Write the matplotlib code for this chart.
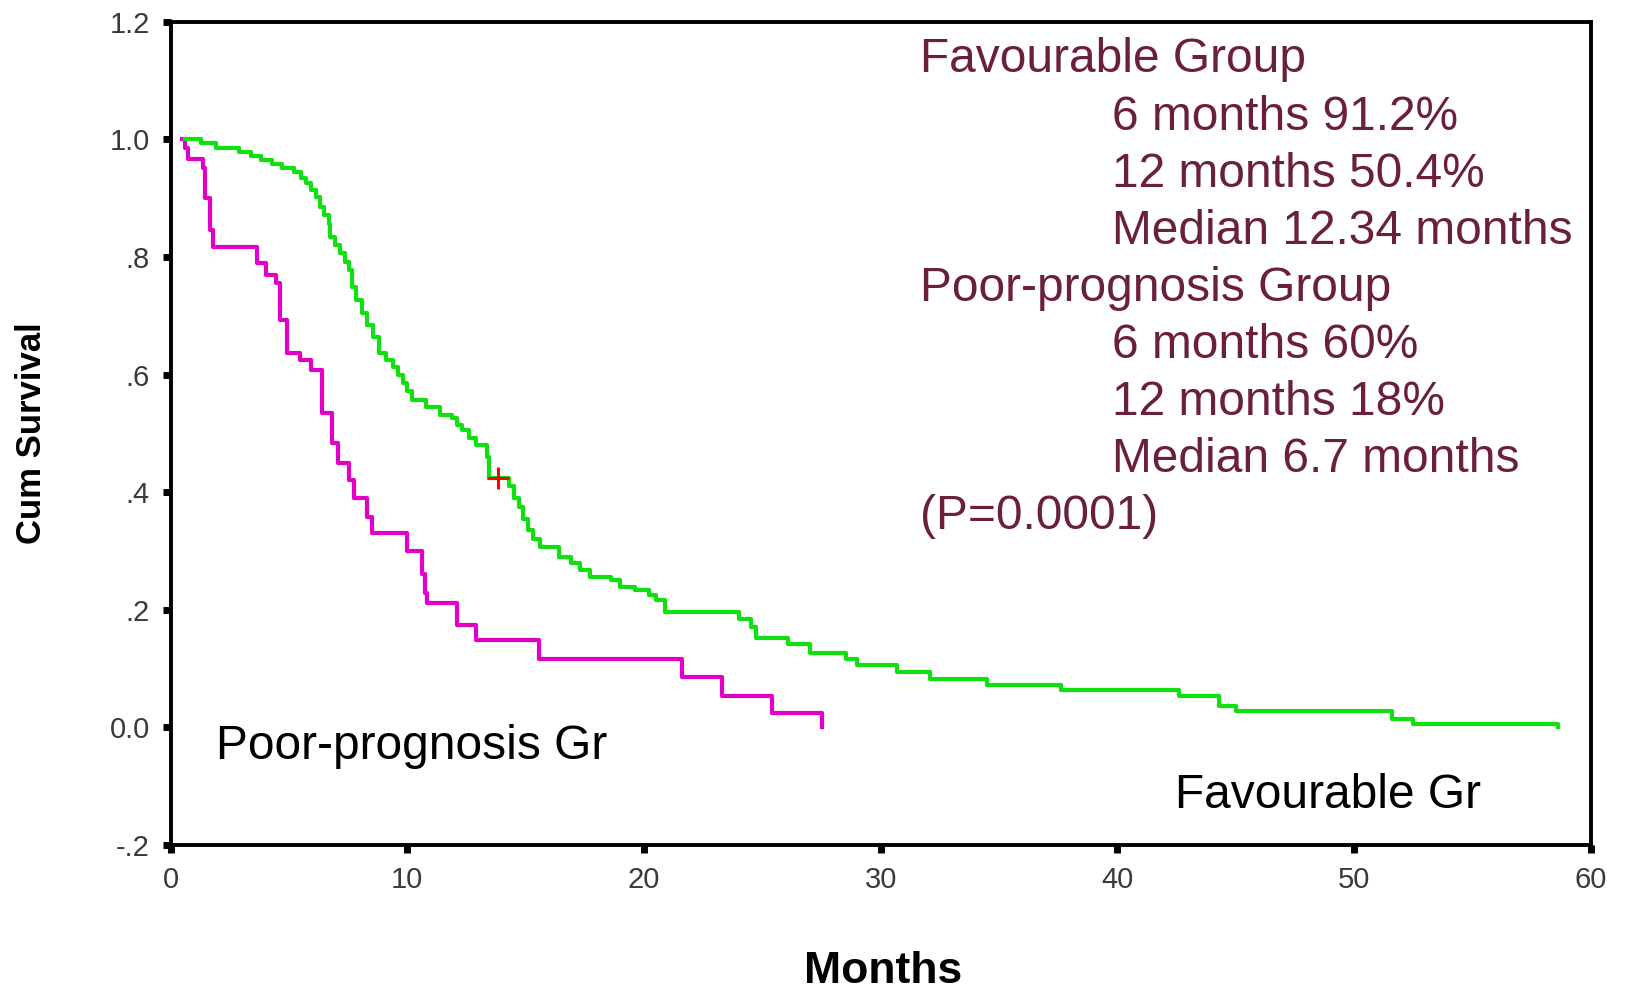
import matplotlib
matplotlib.use("Agg")
import matplotlib.pyplot as plt

plt.rcParams.update({"font.family": ["Liberation Sans", "DejaVu Sans"]})

# --- Kaplan-Meier steps (months, cum survival after drop) ---
poor_t = [0.5, 0.6, 0.75, 1.35, 1.45, 1.65, 1.8, 3.65, 4.05, 4.45, 4.6, 4.9, 5.45,
          5.95, 6.4, 6.8, 7.05, 7.55, 7.75, 8.3, 8.5, 10.0, 10.6, 10.75, 10.85,
          12.1, 12.9, 15.55, 21.6, 23.3, 25.4, 27.5]
poor_s = [1.0, 0.985, 0.967, 0.951, 0.90, 0.846, 0.817, 0.790, 0.769, 0.756, 0.693,
          0.637, 0.625, 0.608, 0.534, 0.483, 0.449, 0.42, 0.39, 0.357, 0.33, 0.30,
          0.26, 0.228, 0.211, 0.174, 0.148, 0.116, 0.085, 0.053, 0.024, 0.0]

fav_t = [0.6, 1.3, 1.9, 2.9, 3.4, 3.8, 4.3, 4.7, 5.2, 5.5, 5.7, 5.95, 6.15, 6.3, 6.5,
         6.7, 6.75, 6.95, 7.15, 7.35, 7.55, 7.65, 7.85, 8.1, 8.3, 8.55, 8.8, 9.1,
         9.4, 9.6, 9.8, 10.0, 10.2, 10.8, 11.4, 11.9, 12.1, 12.3, 12.6, 12.9, 13.35,
         13.45, 14.3, 14.5, 14.7, 14.9, 15.1, 15.3, 15.6, 16.4, 16.9, 17.3, 17.7,
         18.6, 19.0, 19.6, 20.2, 20.5, 20.9, 24.0, 24.5, 24.75, 26.1, 27.0, 28.55,
         29.0, 30.7, 32.1, 34.5, 37.6, 42.6, 44.3, 45.0, 51.6, 52.5, 58.6]
fav_s = [1.0, 0.993, 0.985, 0.979, 0.972, 0.965, 0.958, 0.951, 0.945, 0.935, 0.926,
         0.914, 0.902, 0.885, 0.872, 0.856, 0.834, 0.82, 0.807, 0.792, 0.778, 0.749,
         0.727, 0.705, 0.685, 0.664, 0.636, 0.625, 0.613, 0.60, 0.586, 0.572, 0.557,
         0.545, 0.531, 0.526, 0.515, 0.505, 0.492, 0.48, 0.46, 0.424, 0.41, 0.39,
         0.375, 0.355, 0.335, 0.32, 0.307, 0.29, 0.279, 0.268, 0.255, 0.25, 0.238,
         0.233, 0.225, 0.216, 0.196, 0.184, 0.17, 0.152, 0.141, 0.126, 0.117, 0.106,
         0.094, 0.083, 0.072, 0.063, 0.053, 0.037, 0.027, 0.015, 0.006, 0.0]

censor_t = [13.85]
censor_s = [0.424]

y_ticks = [1.2, 1.0, 0.8, 0.6, 0.4, 0.2, 0.0, -0.2]
y_labels = ["1.2", "1.0", ".8", ".6", ".4", ".2", "0.0", "-.2"]
x_ticks = [0, 10, 20, 30, 40, 50, 60]

info_lines = [
    ("Favourable Group", 0),
    ("6 months 91.2%", 1),
    ("12 months 50.4%", 1),
    ("Median 12.34 months", 1),
    ("Poor-prognosis Group", 0),
    ("6 months 60%", 1),
    ("12 months 18%", 1),
    ("Median 6.7 months", 1),
    ("(P=0.0001)", 0),
]

fig = plt.figure(figsize=(16.25, 9.9), dpi=100)
ax = fig.add_axes([0.105, 0.1465, 0.874, 0.8315])

ax.step(poor_t, poor_s, where="post", color="#e000c8", lw=3, zorder=3)
ax.step(fav_t, fav_s, where="post", color="#10e010", lw=3, zorder=3)
ax.plot(censor_t, censor_s, "+", color="red", ms=16, mew=2.2, zorder=4)

ax.set_xlim(0, 60)
ax.set_ylim(-0.2, 1.2)
ax.set_yticks(y_ticks)
ax.set_yticklabels(y_labels)
ax.set_xticks(x_ticks)

for sp in ax.spines.values():
    sp.set_linewidth(2.8)
ax.tick_params(direction="out", length=6, width=5, color="black",
               labelsize=21, labelcolor="#3a3a3a", pad=9)

ax.set_ylabel("Cum Survival", fontsize=25, fontweight="bold", va="center")
ax.yaxis.set_label_coords(-0.098, 0.5)
ax.set_xlabel("Months", fontsize=32, fontweight="bold", va="center")
ax.xaxis.set_label_coords(0.502, -0.154)

# group summary text block
txt_col = "#6b1f3f"
y0, dy = 1.135, 0.097
for i, (line, indent) in enumerate(info_lines):
    ax.text(39.75 if indent else 31.65, y0 - i * dy, line, fontsize=34.5,
            color=txt_col, va="center", ha="left")

ax.text(1.9, -0.032, "Poor-prognosis Gr", fontsize=34.5, color="black", va="center")
ax.text(42.45, -0.116, "Favourable Gr", fontsize=34.5, color="black", va="center")

fig.savefig("out.png", dpi=100)
